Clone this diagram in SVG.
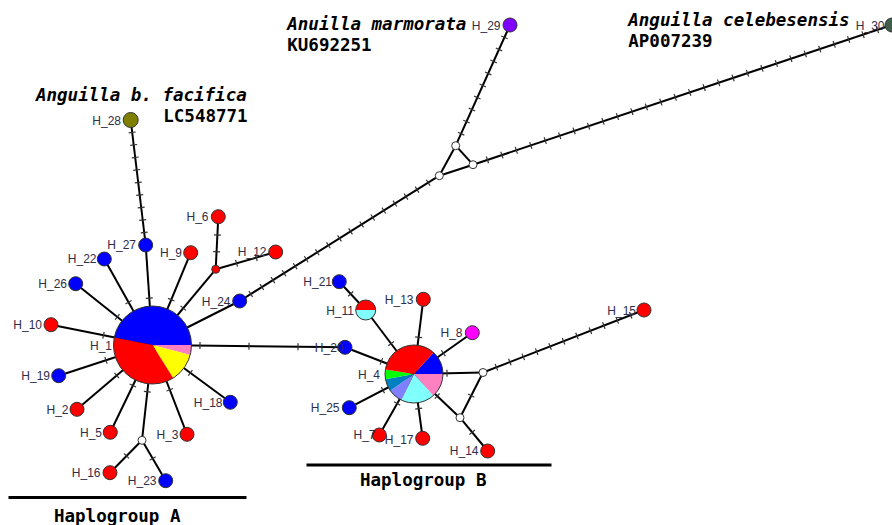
<svg xmlns="http://www.w3.org/2000/svg" width="892" height="525" viewBox="0 0 892 525">
<style>
.c{stroke:#000;stroke-width:2;fill:none}
.tk{stroke:#333;stroke-width:7;fill:none}
.n{stroke:#333;stroke-width:1}
.w{fill:#fff;stroke:#333;stroke-width:1}
.r{fill:#ff0000}
.b{fill:#0000ff}
.lb{font-family:"Liberation Sans",Arial,sans-serif;font-size:12px;fill:#2e2e48;text-anchor:end}
.sp{font-family:"DejaVu Sans Mono","Liberation Mono",monospace;font-size:17.5px;font-weight:bold;fill:#000}
.it{font-style:italic}
.ul{stroke:#000;stroke-width:3}
</style>
<rect width="892" height="525" fill="#fff"/>
<g id="connectors">
<line class="c" x1="152.5" y1="345" x2="145.7" y2="245"/><line class="tk" x1="152.5" y1="345" x2="145.7" y2="245" stroke-dasharray="1.2 9999" stroke-dashoffset="-46.4"/>
<line class="c" x1="152.5" y1="345" x2="104.3" y2="259"/><line class="tk" x1="152.5" y1="345" x2="104.3" y2="259" stroke-dasharray="1.2 9999" stroke-dashoffset="-48.4"/>
<line class="c" x1="152.5" y1="345" x2="75.7" y2="283.7"/><line class="tk" x1="152.5" y1="345" x2="75.7" y2="283.7" stroke-dasharray="1.2 9999" stroke-dashoffset="-44.4"/>
<line class="c" x1="152.5" y1="345" x2="51" y2="324.7"/><line class="tk" x1="152.5" y1="345" x2="51" y2="324.7" stroke-dasharray="1.2 9999" stroke-dashoffset="-49.4"/>
<line class="c" x1="152.5" y1="345" x2="58.7" y2="375.7"/><line class="tk" x1="152.5" y1="345" x2="58.7" y2="375.7" stroke-dasharray="1.2 9999" stroke-dashoffset="-48.4"/>
<line class="c" x1="152.5" y1="345" x2="77" y2="409.3"/><line class="tk" x1="152.5" y1="345" x2="77" y2="409.3" stroke-dasharray="1.2 9999" stroke-dashoffset="-46.4"/>
<line class="c" x1="152.5" y1="345" x2="110.3" y2="432.3"/><line class="tk" x1="152.5" y1="345" x2="110.3" y2="432.3" stroke-dasharray="1.2 9999" stroke-dashoffset="-44.4"/>
<line class="c" x1="152.5" y1="345" x2="142" y2="440.3"/><line class="tk" x1="152.5" y1="345" x2="142" y2="440.3" stroke-dasharray="1.2 9999" stroke-dashoffset="-46.4"/>
<line class="c" x1="142" y1="440.3" x2="110" y2="472.7"/><line class="tk" x1="142" y1="440.3" x2="110" y2="472.7" stroke-dasharray="1.2 9999" stroke-dashoffset="-21.4"/>
<line class="c" x1="142" y1="440.3" x2="165.7" y2="480.7"/><line class="tk" x1="142" y1="440.3" x2="165.7" y2="480.7" stroke-dasharray="1.2 9999" stroke-dashoffset="-20.4"/>
<line class="c" x1="152.5" y1="345" x2="187" y2="434.3"/><line class="tk" x1="152.5" y1="345" x2="187" y2="434.3" stroke-dasharray="1.2 9999" stroke-dashoffset="-47.4"/>
<line class="c" x1="152.5" y1="345" x2="230.3" y2="402.3"/><line class="tk" x1="152.5" y1="345" x2="230.3" y2="402.3" stroke-dasharray="1.2 9999" stroke-dashoffset="-46.4"/>
<line class="c" x1="152.5" y1="345" x2="239.7" y2="301"/>
<line class="c" x1="239.7" y1="301" x2="439.3" y2="175.7"/><line class="tk" x1="239.7" y1="301" x2="439.3" y2="175.7" stroke-dasharray="1.2 11.89" stroke-dashoffset="-12.49"/>
<line class="c" x1="152.5" y1="345" x2="215.7" y2="269.3"/><line class="tk" x1="152.5" y1="345" x2="215.7" y2="269.3" stroke-dasharray="1.2 9999" stroke-dashoffset="-47.4"/>
<line class="c" x1="215.7" y1="269.3" x2="218.3" y2="216.7"/><line class="tk" x1="215.7" y1="269.3" x2="218.3" y2="216.7" stroke-dasharray="1.2 15.5" stroke-dashoffset="-17"/>
<line class="c" x1="215.7" y1="269.3" x2="275.7" y2="252"/><line class="tk" x1="215.7" y1="269.3" x2="275.7" y2="252" stroke-dasharray="1.2 19.3" stroke-dashoffset="-21.1"/>
<line class="c" x1="152.5" y1="345" x2="190.7" y2="252.7"/><line class="tk" x1="152.5" y1="345" x2="190.7" y2="252.7" stroke-dasharray="1.2 9999" stroke-dashoffset="-48.4"/>
<line class="c" x1="145.7" y1="245" x2="130.7" y2="120"/><line class="tk" x1="145.7" y1="245" x2="130.7" y2="120" stroke-dasharray="1.2 11.4" stroke-dashoffset="-12"/>
<line class="c" x1="152.5" y1="345" x2="345" y2="347.3"/><line class="tk" x1="152.5" y1="345" x2="345" y2="347.3" stroke-dasharray="1.2 47.8" stroke-dashoffset="-46.9"/>
<line class="c" x1="414" y1="374" x2="345" y2="347.3"/><line class="tk" x1="414" y1="374" x2="345" y2="347.3" stroke-dasharray="1.2 9999" stroke-dashoffset="-34.4"/>
<line class="c" x1="414" y1="374" x2="365.7" y2="310"/><line class="tk" x1="414" y1="374" x2="365.7" y2="310" stroke-dasharray="1.2 9999" stroke-dashoffset="-37.4"/>
<line class="c" x1="365.7" y1="310" x2="339.3" y2="281.7"/><line class="tk" x1="365.7" y1="310" x2="339.3" y2="281.7" stroke-dasharray="1.2 9999" stroke-dashoffset="-21.4"/>
<line class="c" x1="414" y1="374" x2="423.3" y2="299.3"/><line class="tk" x1="414" y1="374" x2="423.3" y2="299.3" stroke-dasharray="1.2 9999" stroke-dashoffset="-36.4"/>
<line class="c" x1="414" y1="374" x2="472.3" y2="332.7"/><line class="tk" x1="414" y1="374" x2="472.3" y2="332.7" stroke-dasharray="1.2 9999" stroke-dashoffset="-35.4"/>
<line class="c" x1="414" y1="374" x2="349.3" y2="407.7"/><line class="tk" x1="414" y1="374" x2="349.3" y2="407.7" stroke-dasharray="1.2 9999" stroke-dashoffset="-34.4"/>
<line class="c" x1="414" y1="374" x2="379.3" y2="435"/><line class="tk" x1="414" y1="374" x2="379.3" y2="435" stroke-dasharray="1.2 9999" stroke-dashoffset="-33.4"/>
<line class="c" x1="414" y1="374" x2="422.7" y2="438.3"/><line class="tk" x1="414" y1="374" x2="422.7" y2="438.3" stroke-dasharray="1.2 9999" stroke-dashoffset="-34.4"/>
<line class="c" x1="414" y1="374" x2="483" y2="372.5"/><line class="tk" x1="414" y1="374" x2="483" y2="372.5" stroke-dasharray="1.2 9999" stroke-dashoffset="-32.4"/>
<line class="c" x1="414" y1="374" x2="460" y2="417.7"/><line class="tk" x1="414" y1="374" x2="460" y2="417.7" stroke-dasharray="1.2 9999" stroke-dashoffset="-31.4"/>
<line class="c" x1="483" y1="372.5" x2="460" y2="417.7"/><line class="tk" x1="483" y1="372.5" x2="460" y2="417.7" stroke-dasharray="1.2 9999" stroke-dashoffset="-25.4"/>
<line class="c" x1="460" y1="417.7" x2="487.7" y2="451"/><line class="tk" x1="460" y1="417.7" x2="487.7" y2="451" stroke-dasharray="1.2 9999" stroke-dashoffset="-18.4"/>
<line class="c" x1="483" y1="372.5" x2="644" y2="310"/><line class="tk" x1="483" y1="372.5" x2="644" y2="310" stroke-dasharray="1.2 13.2" stroke-dashoffset="-13.8"/>
<line class="c" x1="439.3" y1="175.7" x2="455.7" y2="145.7"/>
<line class="c" x1="439.3" y1="175.7" x2="473" y2="164.7"/>
<line class="c" x1="455.7" y1="145.7" x2="473" y2="164.7"/>
<line class="c" x1="455.7" y1="145.7" x2="510" y2="25"/><line class="tk" x1="455.7" y1="145.7" x2="510" y2="25" stroke-dasharray="1.2 12" stroke-dashoffset="-12.6"/>
<line class="c" x1="473" y1="164.7" x2="892" y2="25"/><line class="tk" x1="473" y1="164.7" x2="892" y2="25" stroke-dasharray="1.2 14.03" stroke-dashoffset="-14.63"/>
</g>
<g id="H_1">
<path fill="#0000ff" d="M152.5,345 L114.22,337.56 A39,39 0 0 1 191.5,345 Z"/>
<path fill="#ff80c0" d="M152.5,345 L191.5,345 A39,39 0 0 1 190.21,354.96 Z"/>
<path fill="#ffff00" d="M152.5,345 L190.21,354.96 A39,39 0 0 1 173.17,378.07 Z"/>
<path fill="#ff0000" d="M152.5,345 L173.17,378.07 A39,39 0 0 1 114.22,337.56 Z"/>
<circle cx="152.5" cy="345" r="39" fill="none" class="n"/>
<text class="lb" x="112" y="349.5">H_1</text>
</g>
<g id="H_4">
<path fill="#0000ff" d="M414,374 L433.59,352.62 A29,29 0 0 1 443,374 Z"/>
<path fill="#ff80c0" d="M414,374 L443,374 A29,29 0 0 1 433.14,395.79 Z"/>
<path fill="#80ffff" d="M414,374 L433.14,395.79 A29,29 0 0 1 401.47,400.15 Z"/>
<path fill="#8080ff" d="M414,374 L401.47,400.15 A29,29 0 0 1 390.24,390.63 Z"/>
<path fill="#0080c0" d="M414,374 L390.24,390.63 A29,29 0 0 1 385.48,379.24 Z"/>
<path fill="#00ff00" d="M414,374 L385.48,379.24 A29,29 0 0 1 385.36,369.46 Z"/>
<path fill="#ff0000" d="M414,374 L385.36,369.46 A29,29 0 0 1 433.59,352.62 Z"/>
<circle cx="414" cy="374" r="29" fill="none" class="n"/>
<text class="lb" x="380" y="379">H_4</text>
</g>
<g id="H_27"><circle class="n b" cx="145.7" cy="245" r="7"/><text class="lb" x="136" y="249">H_27</text></g>
<g id="H_22"><circle class="n b" cx="104.3" cy="259" r="7"/><text class="lb" x="96.5" y="263">H_22</text></g>
<g id="H_26"><circle class="n b" cx="75.7" cy="283.7" r="7"/><text class="lb" x="67" y="288">H_26</text></g>
<g id="H_10"><circle class="n r" cx="51" cy="324.7" r="7"/><text class="lb" x="42" y="329">H_10</text></g>
<g id="H_19"><circle class="n b" cx="58.7" cy="375.7" r="7"/><text class="lb" x="50" y="380">H_19</text></g>
<g id="H_2"><circle class="n r" cx="77" cy="409.3" r="7"/><text class="lb" x="68.5" y="413.5">H_2</text></g>
<g id="H_5"><circle class="n r" cx="110.3" cy="432.3" r="7"/><text class="lb" x="102" y="436.5">H_5</text></g>
<g id="mvA"><circle class="w" cx="142" cy="440.3" r="4"/></g>
<g id="H_16"><circle class="n r" cx="110" cy="472.7" r="7"/><text class="lb" x="100.5" y="477">H_16</text></g>
<g id="H_23"><circle class="n b" cx="165.7" cy="480.7" r="7"/><text class="lb" x="156.5" y="485">H_23</text></g>
<g id="H_3"><circle class="n r" cx="187" cy="434.3" r="7"/><text class="lb" x="178.5" y="438.5">H_3</text></g>
<g id="H_18"><circle class="n b" cx="230.3" cy="402.3" r="7"/><text class="lb" x="222.5" y="406.5">H_18</text></g>
<g id="H_24"><circle class="n b" cx="239.7" cy="301" r="7"/><text class="lb" x="230.5" y="305.5">H_24</text></g>
<g id="H_9"><circle class="n r" cx="190.7" cy="252.7" r="7"/><text class="lb" x="182" y="257">H_9</text></g>
<g id="mvR"><circle class="n r" cx="215.7" cy="269.3" r="4"/></g>
<g id="H_6"><circle class="n r" cx="218.3" cy="216.7" r="7"/><text class="lb" x="208.5" y="221">H_6</text></g>
<g id="H_12"><circle class="n r" cx="275.7" cy="252" r="7"/><text class="lb" x="266.5" y="256">H_12</text></g>
<g id="H_28"><circle class="n" fill="#808000" cx="130.7" cy="120" r="7.5"/><text class="lb" x="121" y="124.5">H_28</text></g>
<g id="H_20"><circle class="n b" cx="345" cy="347.3" r="7"/><text class="lb" x="343.5" y="351.5">H_20</text></g>
<g id="H_21"><circle class="n b" cx="339.3" cy="281.7" r="7"/><text class="lb" x="332" y="286">H_21</text></g>
<g id="H_11">
<path fill="#ff0000" d="M355.7,310 A10,10 0 0 1 375.7,310 Z"/>
<path fill="#80ffff" d="M375.7,310 A10,10 0 0 1 355.7,310 Z"/>
<circle cx="365.7" cy="310" r="10" fill="none" class="n"/>
<text class="lb" x="354" y="314.5">H_11</text>
</g>
<g id="H_13"><circle class="n r" cx="423.3" cy="299.3" r="7"/><text class="lb" x="413.5" y="304">H_13</text></g>
<g id="H_8"><circle class="n" fill="#ff00ff" cx="472.3" cy="332.7" r="7"/><text class="lb" x="462.5" y="337">H_8</text></g>
<g id="H_25"><circle class="n b" cx="349.3" cy="407.7" r="7"/><text class="lb" x="339.5" y="412">H_25</text></g>
<g id="H_7"><circle class="n r" cx="379.3" cy="435" r="7"/><text class="lb" x="375.5" y="439">H_7</text></g>
<g id="H_17"><circle class="n r" cx="422.7" cy="438.3" r="7"/><text class="lb" x="413.5" y="444">H_17</text></g>
<g id="mvB1"><circle class="w" cx="483" cy="372.5" r="4"/></g>
<g id="mvB2"><circle class="w" cx="460" cy="417.7" r="4"/></g>
<g id="H_14"><circle class="n r" cx="487.7" cy="451" r="7"/><text class="lb" x="478.5" y="455">H_14</text></g>
<g id="H_15"><circle class="n r" cx="644" cy="310" r="7"/><text class="lb" x="636" y="314.5">H_15</text></g>
<g id="mvL"><circle class="w" cx="439.3" cy="175.7" r="4"/></g>
<g id="mvT"><circle class="w" cx="455.7" cy="145.7" r="4"/></g>
<g id="mvRt"><circle class="w" cx="473" cy="164.7" r="4"/></g>
<g id="H_29"><circle class="n" fill="#8000ff" cx="510" cy="25" r="7"/><text class="lb" x="500.5" y="30">H_29</text></g>
<g id="H_30"><circle class="n" fill="#3f5f4c" cx="892" cy="25" r="7"/><text class="lb" x="884.5" y="29.5">H_30</text></g>
<g id="labels">
<text class="sp it" x="36" y="101">Anguilla b. facifica</text>
<text class="sp" x="163.3" y="121.5">LC548771</text>
<text class="sp it" x="287.3" y="30">Anuilla marmorata</text>
<text class="sp" x="287.3" y="50.5">KU692251</text>
<text class="sp it" x="628.3" y="26">Anguilla celebesensis</text>
<text class="sp" x="628.3" y="46.5">AP007239</text>
<line class="ul" x1="8.5" y1="497.5" x2="246.5" y2="497.5"/>
<text class="sp" x="54" y="521.5">Haplogroup A</text>
<line class="ul" x1="306.5" y1="465" x2="551.5" y2="465"/>
<text class="sp" x="360" y="485.5">Haplogroup B</text>
</g>
</svg>
